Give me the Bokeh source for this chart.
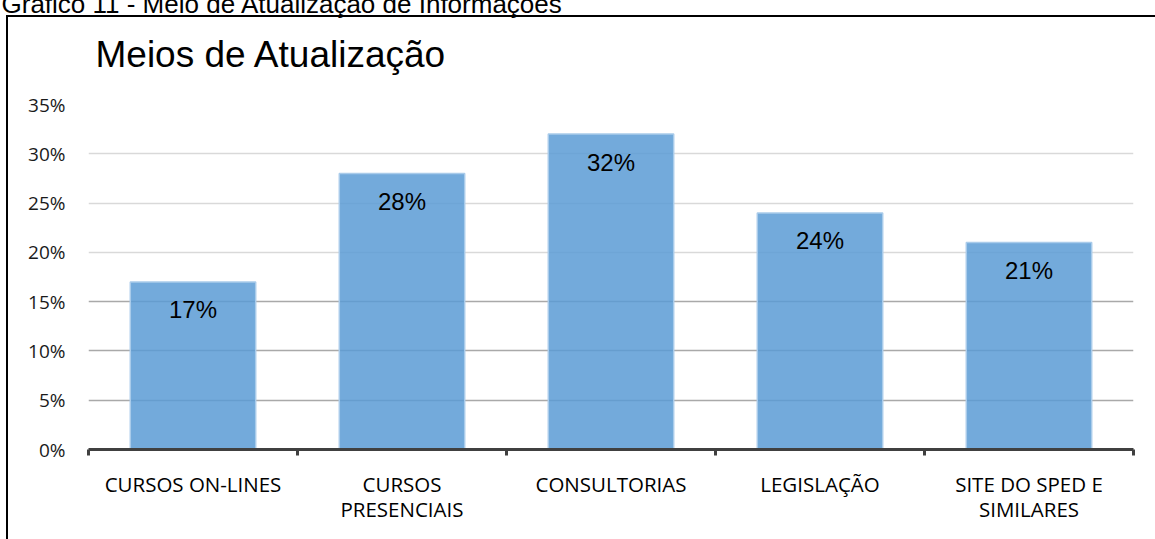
from bokeh.plotting import figure
from bokeh.models import Range1d, FixedTicker, Grid, NumeralTickFormatter, Title
from bokeh.core.properties import value
from bokeh.embed import file_html
from bokeh.resources import INLINE

# ---- data ----
categories = ["CURSOS ON-LINES", "CURSOS\nPRESENCIAIS", "CONSULTORIAS", "LEGISLAÇÃO", "SITE DO SPED E\nSIMILARES"]
percent_values = [17, 28, 32, 24, 21]
y_ticks = [0, 5, 10, 15, 20, 25, 30, 35]
chart_title = "Meios de Atualização"
caption = "Gráfico 11 - Meio de Atualização de Informações"

n = len(categories)
centers = [i + 0.5 for i in range(n)]
tops = [v / 100 for v in percent_values]

W, H = 1155, 539
p = figure(width=W, height=H, output_backend="svg", toolbar_location=None,
           x_range=Range1d(0, n), y_range=Range1d(0, y_ticks[-1] / 100),
           min_border_left=88, min_border_right=22, min_border_top=104, min_border_bottom=90)
p.title = None
p.outline_line_color = None
p.border_fill_color = None
p.background_fill_color = "white"
p.styles = {
    "background": "linear-gradient(#000,#000) 6px 15px / 100% 2px no-repeat, "
                  "linear-gradient(#000,#000) 6px 15px / 2px 100% no-repeat",
}

# grids
p.xgrid.visible = False
p.ygrid.ticker = FixedTicker(ticks=[t / 100 for t in y_ticks if t >= 20])
p.ygrid.grid_line_color = "#d9d9d9"
p.ygrid.grid_line_width = 1.3
low_grid = Grid(dimension=1, ticker=FixedTicker(ticks=[t / 100 for t in y_ticks if 0 < t < 20]),
                grid_line_color="#a9a9a9", grid_line_width=1.3)
p.add_layout(low_grid)

# bars
p.vbar(x=centers, top=tops, width=0.6, bottom=0,
       fill_color="#5B9BD5", fill_alpha=0.85, line_color="#A9CBEA", line_width=1.5)

# data labels
p.text(x=centers, y=tops, text=[f"{v}%" for v in percent_values],
       text_align="center", text_baseline="alphabetic", y_offset=28,
       text_font=value("Liberation Sans"), text_font_size="24px", text_color="black")

# y axis
ya = p.yaxis[0]
ya.ticker = FixedTicker(ticks=[t / 100 for t in y_ticks])
ya.formatter = NumeralTickFormatter(format="0%")
ya.axis_line_color = None
ya.major_tick_line_color = None
ya.minor_tick_line_color = None
ya.major_tick_out = 0
ya.major_tick_in = 0
ya.major_label_standoff = 23
ya.major_label_text_font = "Open Sans"
ya.major_label_text_font_size = "19px"
ya.major_label_text_color = "#1a1a1a"

# x axis: labels at centers, ticks at boundaries (minor)
xa = p.xaxis[0]
xa.ticker = FixedTicker(ticks=centers, minor_ticks=list(range(n + 1)))
xa.major_label_overrides = {c: lab for c, lab in zip(centers, categories)}
xa.axis_line_color = "#404040"
xa.axis_line_width = 3
xa.major_tick_out = 0
xa.major_tick_in = 0
xa.major_tick_line_color = None
xa.minor_tick_out = 6
xa.minor_tick_in = 0
xa.minor_tick_line_color = "#404040"
xa.minor_tick_line_width = 3
xa.major_label_standoff = 14
xa.major_label_text_font = "Open Sans"
xa.major_label_text_font_size = "20.5px"
xa.major_label_text_color = "black"
xa.major_label_text_line_height = 0.9

# title (closest to frame) and caption (above it)
p.add_layout(Title(text=chart_title, align="left", offset=7, standoff=59,
                   text_font="Liberation Sans", text_font_size="37px",
                   text_font_style="normal", text_color="black"), "above")
p.add_layout(Title(text=caption, align="left", offset=-87, standoff=-33,
                   text_font="Liberation Sans", text_font_size="26px",
                   text_font_style="normal", text_color="black"), "above")

open("out.html", "w").write(file_html(p, INLINE))
